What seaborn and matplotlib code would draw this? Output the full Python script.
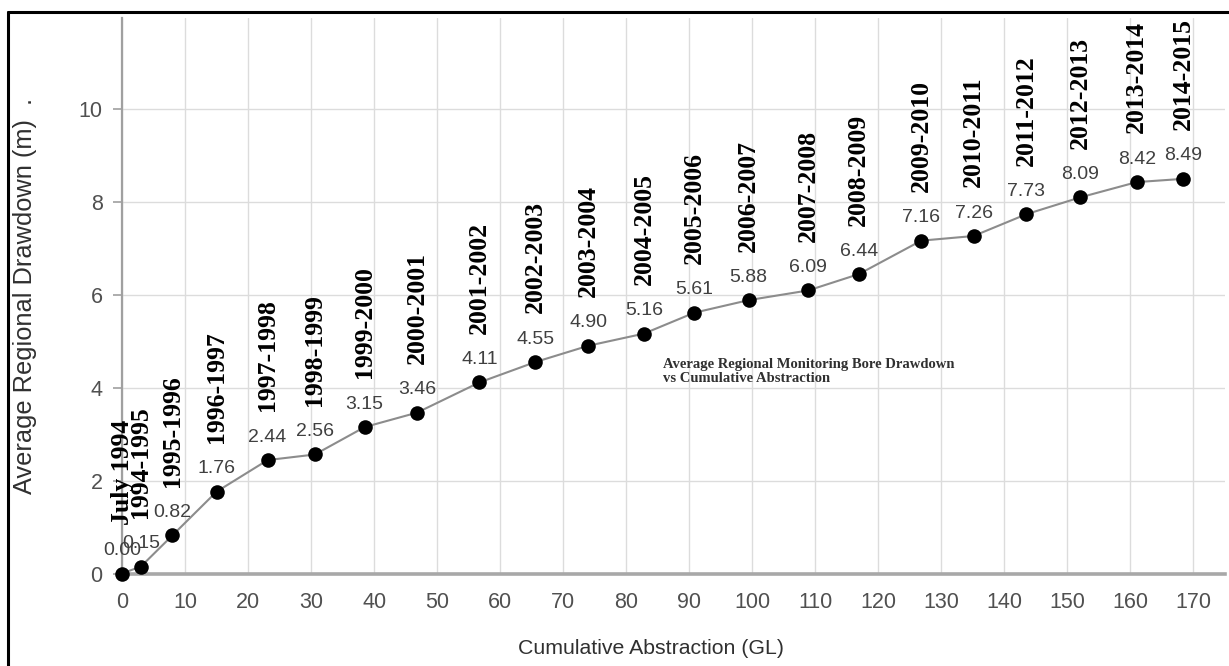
import matplotlib
matplotlib.use("Agg")
import matplotlib.pyplot as plt
import seaborn as sns
import pandas as pd
from matplotlib.lines import Line2D

# Financial years and cumulative abstraction / drawdown values
years = ["July 1994", "1994-1995", "1995-1996", "1996-1997", "1997-1998",
         "1998-1999", "1999-2000", "2000-2001", "2001-2002", "2002-2003",
         "2003-2004", "2004-2005", "2005-2006", "2006-2007", "2007-2008",
         "2008-2009", "2009-2010", "2010-2011", "2011-2012", "2012-2013",
         "2013-2014", "2014-2015"]
abstraction_gl = [0.0, 3.0, 8.0, 15.0, 23.1, 30.6, 38.5, 46.8, 56.7, 65.6,
                  74.0, 82.8, 90.8, 99.4, 108.9, 116.9, 126.8, 135.1, 143.5,
                  152.0, 161.0, 168.4]
drawdown_m = [0.00, 0.15, 0.82, 1.76, 2.44, 2.56, 3.15, 3.46, 4.11, 4.55,
              4.90, 5.16, 5.61, 5.88, 6.09, 6.44, 7.16, 7.26, 7.73, 8.09,
              8.42, 8.49]
x_ticks = list(range(0, 171, 10))
y_ticks = [0, 2, 4, 6, 8, 10]

df = pd.DataFrame({"year": years, "abstraction": abstraction_gl,
                   "drawdown": drawdown_m})

sns.set_theme(style="white")
plt.rcParams["font.family"] = ["Liberation Sans", "DejaVu Sans"]

W, H = 1229, 666
fig = plt.figure(figsize=(W / 100, H / 100), dpi=100)
fig.patch.set_facecolor("white")
ax = fig.add_axes([122 / W, 1 - 573.5 / H, (1225 - 122) / W, (573.5 - 18) / H])

sns.lineplot(data=df, x="abstraction", y="drawdown", ax=ax, color="#8c8c8c",
             linewidth=1.5, sort=False, zorder=3)
sns.scatterplot(data=df, x="abstraction", y="drawdown", ax=ax, color="black",
                s=110, edgecolor="black", linewidth=0, zorder=4, clip_on=False)

ax.set_xlim(0, 175)
ax.set_ylim(0, 11.95)
ax.set_xticks(x_ticks)
ax.set_yticks(y_ticks)
ax.grid(True, color="#dcdcdc", linewidth=1.0, zorder=0)
ax.set_axisbelow(True)

for side in ("top", "right"):
    ax.spines[side].set_visible(False)
ax.spines["left"].set_color("#a0a0a0")
ax.spines["left"].set_linewidth(1.6)
ax.spines["bottom"].set_color("#a8a8a8")
ax.spines["bottom"].set_linewidth(2.6)

ax.tick_params(axis="x", length=0, pad=13.5, labelsize=15.5, labelcolor="#505050")
ax.tick_params(axis="y", length=6.5, width=1.2, color="#a0a0a0", pad=7.5,
               labelsize=15.5, labelcolor="#505050", left=True)

ax.set_xlabel("Cumulative Abstraction (GL)", fontsize=15.3, color="#303030")
ax.xaxis.set_label_coords(0.4796, -0.118)
ax.set_ylabel("Average Regional Drawdown (m)  .", fontsize=18.3, color="#303030")
ax.yaxis.set_label_coords(-0.077, 0.50)

# Value labels and year labels above each point
for yr, xv, yv in zip(years, abstraction_gl, drawdown_m):
    ax.annotate(f"{yv:.2f}", (xv, yv), xytext=(0, 16.5), textcoords="offset points",
                ha="center", va="center", fontsize=14, color="#404040",
                annotation_clip=False, zorder=5)
    ax.annotate(yr, (xv, yv), xytext=(0, 35), textcoords="offset points",
                ha="center", va="bottom", rotation=90, fontsize=18.5,
                fontweight="bold", color="black",
                family=["Liberation Serif", "DejaVu Serif"],
                annotation_clip=False, zorder=5)

fig.text(663 / W, 1 - 358 / H,
         "Average Regional Monitoring Bore Drawdown\nvs Cumulative Abstraction",
         ha="left", va="top", fontsize=10.5, fontweight="bold", color="#303030",
         family=["Liberation Serif", "DejaVu Serif"], linespacing=1.15)

# Frame lines along the left and top edges of the figure
fig.add_artist(Line2D([8 / W, 8 / W], [0, 1 - 12 / H], transform=fig.transFigure,
                      color="black", linewidth=2.2))
fig.add_artist(Line2D([8 / W, 1], [1 - 12 / H, 1 - 12 / H], transform=fig.transFigure,
                      color="black", linewidth=2.2))

fig.savefig("out.png", dpi=100)
